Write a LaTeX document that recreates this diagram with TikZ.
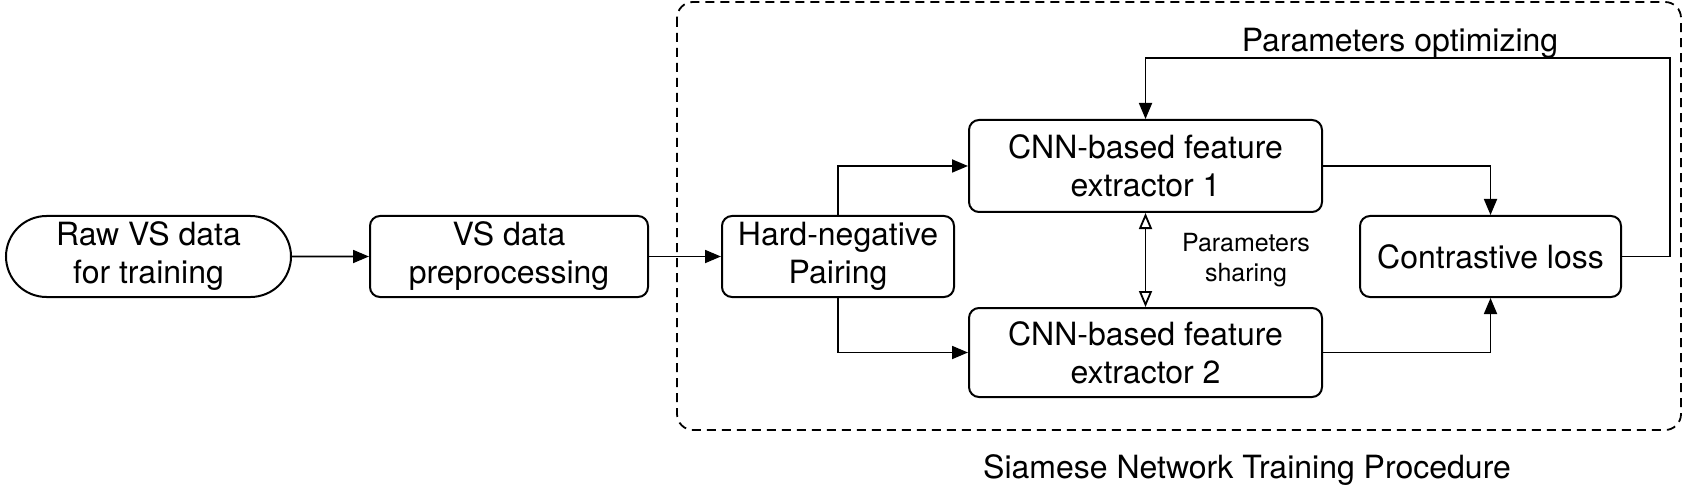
\documentclass[tikz,border=0pt]{standalone}
\usepackage{fontspec}
\setmainfont{TeX Gyre Heros}
\usetikzlibrary{arrows.meta,shapes.misc,calc}
\tikzset{
>={Triangle[length=8pt,width=6.5pt]},
blocco/.style={draw,rounded corners=5pt,line width=1pt,align=center,inner sep=2pt},
terminale/.style={draw,rounded rectangle,line width=1pt,align=center,inner sep=2pt},
freccia/.style={->,line width=0.9pt},
condivisa/.style={{Triangle[open,length=8pt,width=6.5pt]}-{Triangle[open,length=8pt,width=6.5pt]},line width=0.9pt}}

\begin{document}
\begin{tikzpicture}[x=0.5pt,y=-0.5pt,font=\fontsize{16}{19}\selectfont]

\useasboundingbox (0,0) rectangle (1684,502);

      % procedura siamese
      \draw[dash pattern=on 4.5pt off 3pt,line width=0.9pt,rounded corners=8pt] (677,2) rectangle (1681,430);

      \node[terminale,minimum width=146.5pt,minimum height=40.5pt] (raw) at (148.5,256.5) {Raw VS data\\for training};
      \node[blocco,minimum width=139pt,minimum height=40.5pt] (prep) at (509,256.5) {VS data\\preprocessing};
      \node[blocco,minimum width=116pt,minimum height=40.5pt] (pair) at (838,256.5) {Hard-negative\\Pairing};
      \node[blocco,minimum width=176.5pt,minimum height=46pt] (cnn1) at (1145.5,166) {CNN-based feature\\extractor 1};
      \node[blocco,minimum width=176.5pt,minimum height=44.5pt] (cnn2) at (1145.5,352.5) {CNN-based feature\\extractor 2};
      \node[blocco,minimum width=130.5pt,minimum height=40.5pt] (loss) at (1490.5,256.5) {Contrastive loss};

      \node (opt) at (1400,43) {Parameters optimizing};
      \node[align=center,font=\fontsize{12.5}{15}\selectfont] (share) at (1246,260) {Parameters\\sharing};
      \node (titolo) at (1247,470) {Siamese Network Training Procedure};

      \coordinate (ritorno) at (1670,58);

      \path[freccia] (raw) edge (prep) (prep) edge (pair);
      \draw[freccia] (pair.north) |- (cnn1.west);
      \draw[freccia] (pair.south) |- (cnn2.west);
      \draw[freccia] (cnn1.east) -| (loss.north);
      \draw[freccia] (cnn2.east) -| (loss.south);
      \draw[freccia] (loss.east) -| (ritorno) -| (cnn1.north);
      \draw[condivisa] (cnn1.south) -- (cnn2.north);
\end{tikzpicture}
\end{document}
